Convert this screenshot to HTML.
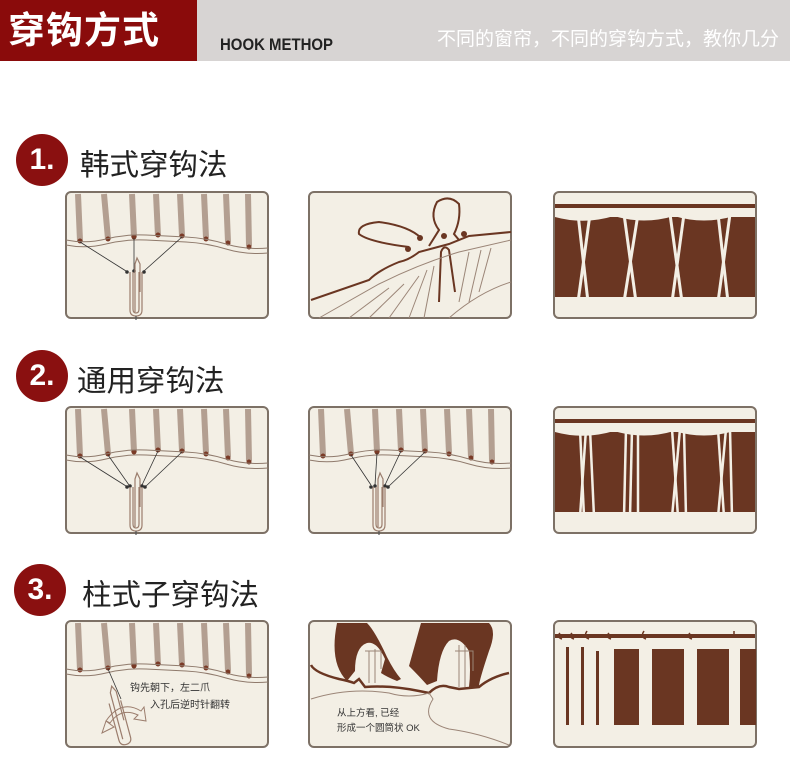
<!DOCTYPE html>
<html><head><meta charset="utf-8"><style>
body{margin:0;width:790px;height:765px;background:#fff;position:relative;overflow:hidden;font-family:"Liberation Sans","Noto Sans CJK SC",sans-serif}
.hdr{position:absolute;left:0;top:0;width:790px;height:61px;background:#d7d4d3}
.red{position:absolute;left:0;top:0;width:197px;height:61px;background:#8a0b0b;color:#fff;font-size:37px;font-weight:bold;line-height:61px;padding-left:8px;box-sizing:border-box;letter-spacing:1px}
.en{position:absolute;left:220px;top:35px;font-size:17px;font-weight:bold;color:#222;transform:scaleX(0.88);transform-origin:left}
.cn{position:absolute;left:437px;top:24px;font-size:19px;color:#fff;white-space:nowrap}
.c{position:absolute;width:52px;height:52px;border-radius:50%;background:#8a1010;color:#fff;font-weight:bold;font-size:30px;line-height:52px;text-align:center}
.t{position:absolute;font-size:29.5px;color:#222;white-space:nowrap}
svg{position:absolute;left:0;top:0}
</style></head><body>
<div class="hdr"></div>
<div class="red">穿钩方式</div>
<div class="en">HOOK METHOP</div>
<div class="cn">不同的窗帘，不同的穿钩方式，教你几分</div>
<div class="c" style="left:16px;top:134px">1.</div><div class="t" style="left:80px;top:142px">韩式穿钩法</div>
<div class="c" style="left:16px;top:350px">2.</div><div class="t" style="left:77px;top:358px">通用穿钩法</div>
<div class="c" style="left:14px;top:564px">3.</div><div class="t" style="left:82px;top:572px">柱式子穿钩法</div>
<svg width="790" height="765" viewBox="0 0 790 765">
<defs>
<g id="frame"><rect x="0" y="0" width="202" height="126" rx="5" fill="#f3efe5" stroke="#7d7166" stroke-width="2"/></g>
<g id="stripes" fill="none">
<g stroke="#b39f91" stroke-width="6">
<path d="M12 2 L14 49"/><path d="M38 2 L42 47"/><path d="M66 2 L68 45"/><path d="M90 2 L92 44"/><path d="M114 2 L116 44"/><path d="M138 2 L140 46"/><path d="M160 2 L162 50"/><path d="M182 2 L183 54"/></g>
<g fill="#7a3a26" stroke="none"><circle cx="14" cy="49" r="2.5"/><circle cx="42" cy="47" r="2.5"/><circle cx="68" cy="45" r="2.5"/><circle cx="92" cy="43" r="2.5"/><circle cx="116" cy="44" r="2.5"/><circle cx="140" cy="47" r="2.5"/><circle cx="162" cy="51" r="2.5"/><circle cx="183" cy="55" r="2.5"/></g>
<path d="M0 48 Q20 52 40 47 T80 43 T120 45 T160 52 T202 56" stroke="#8f7a6c" stroke-width="1"/>
<path d="M0 53 Q20 57 40 52 T80 48 T120 50 T160 57 T202 61" stroke="#8f7a6c" stroke-width="1"/>
</g>
<g id="hook" fill="none" stroke="#9b7d6d" stroke-width="1.2">
<path d="M64 80 L64 118 Q64 124 70 124 Q76 124 76 118 L76 80"/>
<path d="M67 80 L67 117 Q67 121 70 121 Q73 121 73 117 L73 80"/>
<path d="M69 120 L69 72 L71 66 L74 72 L74 100"/>
<path d="M70 124 L70 128" stroke="#555"/>
</g>
<g id="arrowsA" stroke="#333" stroke-width="0.8" fill="#333">
<path d="M14 50 L60 79" fill="none"/><path d="M68 46 L68 78" fill="none"/><path d="M116 45 L78 79" fill="none"/>
<circle cx="61" cy="80" r="1.4"/><circle cx="68" cy="79" r="1.4"/><circle cx="78" cy="80" r="1.4"/>
</g>
<g id="brown">
<rect x="1" y="25" width="200" height="80" fill="#6a3622"/>
<path d="M1 25 Q30 33 60 24 Q90 33 120 24 Q150 33 180 24 L201 25 L201 20 L1 20 Z" fill="#f3efe5"/>
<rect x="1" y="12" width="200" height="4" fill="#6a3622"/>
</g>
</defs>
<g transform="translate(66,192)"><use href="#frame"/><use href="#stripes"/><use href="#arrowsA"/><use href="#hook"/></g>
<g transform="translate(309,192)"><use href="#frame"/>
<g fill="none" stroke="#6a3622" stroke-width="2">
<path d="M2 108 L60 88 Q70 78 90 70 Q100 68 110 60 L140 52 L160 44 L202 40"/>
<path d="M120 54 Q125 46 130 38 Q120 25 128 10 Q140 2 150 12 Q152 28 145 42 L150 48"/>
<path d="M100 55 Q60 50 50 42 Q48 32 70 30 Q100 34 112 46"/>
<path d="M130 110 L132 60 Q135 52 140 58 L146 100"/>
</g>
<g fill="none" stroke="#9b8577" stroke-width="1">
<path d="M10 126 L70 92 Q110 72 150 60 L202 48"/><path d="M40 126 L80 96"/><path d="M60 126 L95 92"/><path d="M80 126 L110 84"/><path d="M100 126 L118 78"/><path d="M115 126 L125 74"/><path d="M150 110 L160 60"/><path d="M160 110 L172 58"/><path d="M170 100 L182 56"/><path d="M140 126 Q170 100 202 90"/>
</g>
<g fill="#6a3622"><circle cx="111" cy="46" r="3"/><circle cx="135" cy="44" r="3"/><circle cx="155" cy="42" r="3"/><circle cx="99" cy="57" r="3"/></g>
</g>
<g transform="translate(554,192)"><use href="#frame"/><use href="#brown"/>
<g stroke="#f3efe5" stroke-width="3" fill="none">
<path d="M24 22 L34 110"/><path d="M36 22 L24 110"/><path d="M70 22 L82 110"/><path d="M84 22 L70 110"/><path d="M116 22 L128 110"/><path d="M130 22 L118 110"/><path d="M164 22 L174 110"/><path d="M176 22 L164 110"/></g>
<rect x="1" y="105" width="200" height="5" fill="#f3efe5"/>
</g>
<g transform="translate(66,407)"><use href="#frame"/><use href="#stripes"/>
<g stroke="#333" stroke-width="0.8" fill="#333"><path d="M14 50 L60 79" fill="none"/><path d="M42 48 L63 78" fill="none"/><path d="M92 44 L76 78" fill="none"/><path d="M116 45 L79 80" fill="none"/><circle cx="61" cy="80" r="1.4"/><circle cx="64" cy="79" r="1.4"/><circle cx="76" cy="79" r="1.4"/><circle cx="79" cy="80" r="1.4"/></g>
<use href="#hook"/></g>
<g transform="translate(309,407)"><use href="#frame"/><use href="#stripes"/>
<g stroke="#333" stroke-width="0.8" fill="#333"><path d="M42 48 L62 78" fill="none"/><path d="M68 46 L66 78" fill="none"/><path d="M92 44 L76 78" fill="none"/><path d="M116 45 L79 80" fill="none"/><circle cx="62" cy="80" r="1.4"/><circle cx="66" cy="79" r="1.4"/><circle cx="76" cy="79" r="1.4"/><circle cx="79" cy="80" r="1.4"/></g>
<use href="#hook"/></g>
<g transform="translate(554,407)"><use href="#frame"/><use href="#brown"/>
<g stroke="#f3efe5" stroke-width="2.5" fill="none">
<path d="M26 22 L30 110"/><path d="M32 22 L26 110"/><path d="M36 22 L40 110"/><path d="M72 22 L70 110"/><path d="M78 22 L76 110"/><path d="M84 22 L84 110"/><path d="M118 22 L124 110"/><path d="M126 22 L118 110"/><path d="M130 22 L132 110"/><path d="M164 22 L170 110"/><path d="M172 22 L164 110"/><path d="M176 22 L178 110"/></g>
<rect x="1" y="105" width="200" height="5" fill="#f3efe5"/>
</g>
<g transform="translate(66,621)"><use href="#frame"/><use href="#stripes"/>
<path d="M42 48 L55 78" stroke="#333" stroke-width="0.8"/>
<g transform="rotate(-15 55 100)" fill="none" stroke="#9b7d6d" stroke-width="1.2"><path d="M48 80 L48 118 Q48 124 54 124 Q60 124 60 118 L60 80"/><path d="M52 118 L52 70 L55 64 L58 70 L58 100"/></g>
<path d="M40 100 Q55 78 75 90 L78 86 L80 100 L68 98 L72 94 Q55 86 44 102 Z M40 100 L36 112 L48 106 Z" fill="none" stroke="#9b7d6d" stroke-width="1"/>
<text x="64" y="70" font-size="10" fill="#333">钩先朝下，左二爪</text>
<text x="84" y="87" font-size="10" fill="#333">入孔后逆时针翻转</text>
</g>
<g transform="translate(309,621)"><use href="#frame"/>
<path d="M28 2 L58 2 Q66 10 78 36 Q85 50 92 58 L88 60 Q78 56 72 52 L76 38 Q68 20 58 22 Q46 26 46 50 L38 60 Q20 42 28 2 Z" fill="#6a3622"/>
<path d="M112 2 L180 2 Q188 10 180 30 Q170 60 170 65 L160 66 Q162 50 160 30 Q150 14 140 20 Q130 30 128 60 L118 64 Q110 55 100 45 L112 2 Z" fill="#6a3622"/>
<path d="M2 44 Q6 52 30 58 Q40 60 45 62 L50 58 L56 66 Q80 64 110 70 L120 72 Q130 62 140 66 L150 68 L170 66 Q182 56 200 52" fill="none" stroke="#6a3622" stroke-width="2.5"/>
<path d="M2 78 Q40 66 80 72 Q100 78 120 72 L124 78 Q110 100 140 108 Q170 112 200 124" fill="none" stroke="#9b8577" stroke-width="1"/>
<g fill="none" stroke="#9b8577" stroke-width="1"><path d="M60 30 L60 62"/><path d="M66 28 L66 62"/><path d="M56 30 L72 30 L72 48"/><path d="M150 24 L150 66"/><path d="M156 24 L156 66"/><path d="M146 30 L164 30 L164 50"/></g>
<text x="28" y="95" font-size="9.5" fill="#333">从上方看, 已经</text>
<text x="28" y="110" font-size="9.5" fill="#333">形成一个圆筒状  OK</text>
</g>
<g transform="translate(554,621)"><use href="#frame"/>
<rect x="1" y="13" width="200" height="4" fill="#6a3622"/>
<g fill="#6a3622"><rect x="12" y="26" width="3" height="78"/><rect x="27" y="26" width="3" height="78"/><rect x="42" y="30" width="3" height="74"/><rect x="60" y="28" width="25" height="76"/><rect x="98" y="28" width="32" height="76"/><rect x="143" y="28" width="32" height="76"/><rect x="186" y="28" width="16" height="76"/></g>
<g fill="none" stroke="#6a3622" stroke-width="1.5"><path d="M6 12 Q2 16 8 18"/><path d="M18 12 Q14 16 20 18"/><path d="M33 10 Q29 16 35 18"/><path d="M55 12 Q51 16 57 18"/><path d="M90 10 Q86 16 92 18"/><path d="M136 12 Q132 16 138 18"/><path d="M180 10 L180 16"/></g>
</g>
</svg>
</body></html>
